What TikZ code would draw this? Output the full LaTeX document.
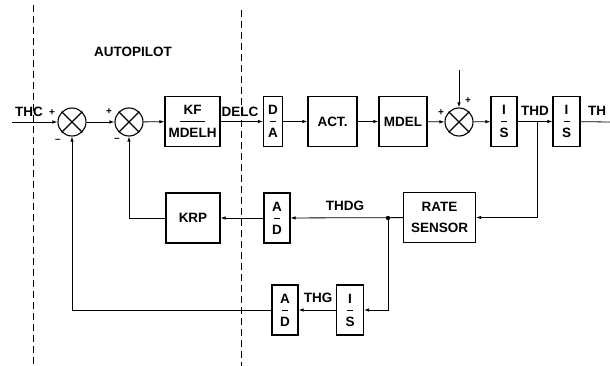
\documentclass[tikz,border=0pt]{standalone}
\usepackage{fontspec}
\setmainfont{Liberation Sans}
\usetikzlibrary{arrows.meta,calc,positioning}
\newcommand{\ovr}[3][6pt]{#2\\\rule[4pt]{#1}{0.8pt}\\#3}

\begin{document}
\begin{tikzpicture}[
  x=1pt,y=-1pt,
  >={Latex[length=5pt,width=3.5pt]},
  line width=0.8pt,
  every node/.style={font={\fontsize{13.5}{11.5}\selectfont\bfseries}},
  blk/.style={draw,line width=1.1pt,minimum height=50pt,inner sep=0pt,align=center},
  sumj/.style={circle,draw,line width=1.1pt,minimum size=28pt,inner sep=0pt},
  sgn/.style={font={\fontsize{10}{11}\selectfont\bfseries},inner sep=0pt},
  bound/.style={line width=0.8pt,dash pattern=on 7pt off 4pt}
]
  \useasboundingbox (0,0) rectangle (610,366);

  % partition lines
  \draw[bound] (33,5) -- (33,366);
  \draw[bound] (241,10) -- (241,366);
  \node (ap) at (133,52) {AUTOPILOT};

  % forward path
  \node[sumj] (sA) at (72,122) {};
  \node[sumj] (sB) at (129,122) {};
  \node[blk,minimum width=55pt] (kf) at (192.5,121.5) {\ovr[25pt]{KF}{MDELH}};
  \node[blk,minimum width=19pt] (da) at (273,121.5) {\ovr{D}{A}};
  \node[blk,minimum width=49pt] (act) at (332.5,121.5) {ACT.};
  \node[blk,minimum width=48pt] (mdel) at (403,121.5) {MDEL};
  \node[sumj] (sC) at (459,122) {};
  \node[blk,minimum width=26pt] (is1) at (504,121.5) {\ovr{I}{S}};
  \node[blk,minimum width=27pt] (is2) at (566.5,121.5) {\ovr{I}{S}};
  \foreach \s in {sA,sB,sC}
    \draw[line width=1.1pt] (\s.north west) -- (\s.south east)
                            (\s.north east) -- (\s.south west);

  % feedback path
  \node[blk,minimum width=72pt] (rs) at (439.5,217.5) {RATE\\[10pt]SENSOR};
  \node[blk,minimum width=26pt] (ad1) at (277,218) {\ovr{A}{D}};
  \node[blk,minimum width=54pt] (krp) at (193,218) {KRP};
  \node[blk,minimum width=27pt] (is3) at (350,310) {\ovr{I}{S}};
  \node[blk,minimum width=26pt] (ad2) at (285,310) {\ovr{A}{D}};

  \coordinate (in) at (12,122);
  \coordinate (out) at (610,122);
  \coordinate (dist) at (459,70);
  \coordinate (thd) at (537,122);
  \coordinate (tap) at (388,218);

  \draw[->] (in) -- (sA);
  \draw[->] (sA) -- (sB);
  \draw[->] (sB) -- (kf);
  \draw[->] (kf) -- (da);
  \draw[->] (da) -- (act);
  \draw[->] (act) -- (mdel);
  \draw[->] (mdel) -- (sC);
  \draw[->] (dist) -- (sC);
  \draw[->] (sC) -- (is1);
  \draw[->] (is1) -- (is2);
  \draw (is2) -- (out);
  \draw[->] (thd) |- (rs);
  \draw[->] (rs) -- (ad1);
  \fill (tap) circle (2.2pt);
  \draw[->] (ad1) -- (krp);
  \draw[->] (krp) -| (sB);
  \draw[->] (tap) |- (is3);
  \draw[->] (is3) -- (ad2);
  \draw[->] (ad2) -| (sA);

  % signal names and signs
  \node (thc) at (29,112) {THC};
  \node (delc) at (240,112) {DELC};
  \node (thdl) at (535,111) {THD};
  \node (th) at (597,111) {TH};
  \node (thdg) at (345,206) {THDG};
  \node (thg) at (318,298) {THG};
  \node[sgn] (pA) at (52,113) {+};
  \node[sgn] (mA) at (58,141) {--};
  \node[sgn] (pB) at (109,112) {+};
  \node[sgn] (mB) at (117,140) {--};
  \node[sgn] (pC) at (441,113) {+};
  \node[sgn] (qC) at (468,101) {+};
\end{tikzpicture}
\end{document}
